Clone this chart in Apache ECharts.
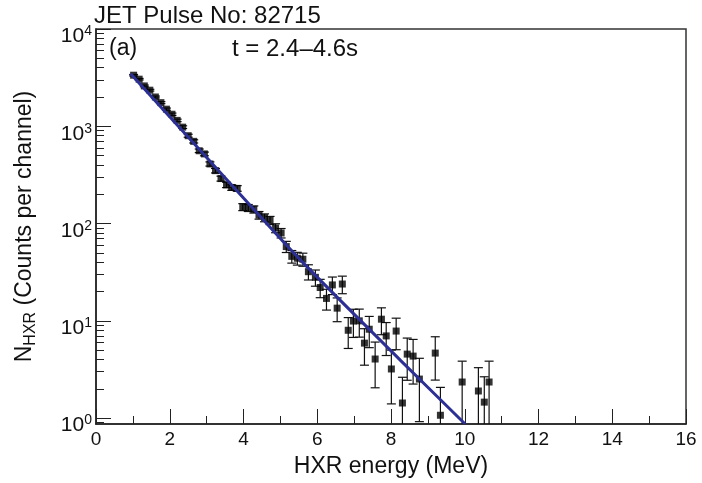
<!DOCTYPE html>
<html>
<head>
<meta charset="utf-8">
<script src="https://cdn.jsdelivr.net/npm/echarts@6/dist/echarts.min.js"></script>
<style>
  html, body { margin: 0; padding: 0; background: #fff; }
  #chart { width: 702px; height: 483px; }
</style>
</head>
<body>
<div id="chart"></div>
<script>
// HXR spectrum, counts per channel vs energy (MeV)
const energy = [
  1.02, 1.17, 1.31, 1.46, 1.61, 1.76, 1.91, 2.06, 2.20, 2.35,
  2.50, 2.65, 2.80, 2.94, 3.09, 3.24, 3.39, 3.54, 3.68, 3.83,
  3.98, 4.13, 4.28, 4.42, 4.57, 4.72, 4.87, 5.02, 5.16, 5.31,
  5.46, 5.61, 5.76, 5.95, 6.08, 6.25, 6.41, 6.54, 6.68, 6.84,
  6.98, 7.14, 7.28, 7.41, 7.57, 7.74, 7.87, 8.01, 8.14, 8.31,
  8.44, 8.60, 8.77, 9.20, 9.34, 9.93, 10.37, 10.53, 10.66
];
const counts = [
  3350, 3050, 2600, 2350, 2000, 1750, 1500, 1330, 1150, 980,
  800, 700, 560, 520, 410, 350, 290, 250, 235, 230,
  148, 145, 140, 122, 115, 108, 90, 80, 58, 46,
  44, 43, 32, 28, 22, 17, 23.4, 13.5, 23.9, 8.0,
  9.95, 10.0, 5.9, 8.2, 4.05, 10.4, 7.0, 3.2, 7.85, 1.43,
  4.55, 4.34, 2.52, 4.66, 1.07, 2.35, 1.90, 1.46, 2.35
];
// statistical uncertainty of each channel
const countErr = [
  57.9, 55.2, 51.0, 48.5, 44.7, 41.8, 38.7, 36.5, 33.9, 31.3,
  28.3, 26.5, 23.7, 22.8, 20.2, 18.7, 17.0, 15.8, 15.3, 15.2,
  12.2, 12.0, 11.8, 11.0, 10.7, 10.4, 9.5, 8.9, 7.6, 6.8,
  6.6, 6.6, 5.7, 5.3, 4.7, 4.1, 4.8, 3.7, 4.9, 2.8,
  3.2, 3.2, 2.4, 2.9, 2.0, 3.2, 2.6, 1.8, 2.8, 1.2,
  2.1, 2.1, 1.6, 2.2, 1.0, 1.5, 1.4, 1.2, 1.5
];
// fitted spectrum
const fitEnergy = [0.94, 2.48, 4.00, 5.54, 8.25, 10.01];
const fitCounts = [3460, 790, 183, 42.3, 3.95, 0.87];

const yMin = 0.87, yMax = 10000;
const yMajorTicks = [1, 10, 100, 1000, 10000];
const yMinorTicks = [
  0.9,
  2, 3, 4, 5, 6, 7, 8, 9,
  20, 30, 40, 50, 60, 70, 80, 90,
  200, 300, 400, 500, 600, 700, 800, 900,
  2000, 3000, 4000, 5000, 6000, 7000, 8000, 9000
];

const FONT = "'Liberation Sans', Arial, Helvetica, sans-serif";
const INK = '#111';
const AXIS = '#222';

const points = energy.map((e, i) => [e, counts[i]]);
const bars = energy.map((e, i) => [e, counts[i], countErr[i]]);
const fit = fitEnergy.map((e, i) => [e, fitCounts[i]]);

const chart = echarts.init(document.getElementById('chart'), null, { renderer: 'canvas' });

chart.setOption({
  backgroundColor: '#fff',
  animation: false,
  grid: {
    left: 96, right: 16, top: 29, bottom: 59,
    show: true, borderColor: '#333', borderWidth: 1.5, backgroundColor: 'transparent'
  },
  graphic: [
    { type: 'text', left: 94, top: 4, style: { text: 'JET Pulse No: 82715', font: '24px ' + FONT, fill: INK } },
    { type: 'text', left: 109, top: 37, style: { text: '(a)', font: '23px ' + FONT, fill: INK } },
    { type: 'text', left: 232, top: 37, style: { text: 't = 2.4\u20134.6s', font: '24px ' + FONT, fill: INK } }
  ],
  xAxis: {
    type: 'value', min: 0, max: 16, interval: 2,
    axisLine: { show: true, lineStyle: { color: AXIS, width: 1.5 } },
    axisTick: { inside: true, length: 15, lineStyle: { color: AXIS, width: 1 } },
    minorTick: { show: true, splitNumber: 2, length: 8, lineStyle: { color: AXIS, width: 1 } },
    splitLine: { show: false },
    axisLabel: { fontSize: 19, fontFamily: FONT, color: INK, margin: 6 },
    name: 'HXR energy (MeV)', nameLocation: 'middle', nameGap: 31,
    nameTextStyle: { fontSize: 23, fontFamily: FONT, color: INK }
  },
  yAxis: [
    {
      type: 'log', min: yMin, max: yMax,
      axisLine: { show: true, lineStyle: { color: AXIS, width: 1.5 } },
      axisTick: { inside: true, length: 15, customValues: yMajorTicks, lineStyle: { color: AXIS, width: 1 } },
      minorTick: { show: false },
      splitLine: { show: false },
      axisLabel: {
        customValues: yMajorTicks,
        margin: 4,
        padding: [15, 0, 0, 0],
        formatter: v => '{b|10}{s|' + Math.round(Math.log10(v)) + '}',
        rich: {
          b: { fontSize: 21, fontFamily: FONT, color: INK, lineHeight: 24, verticalAlign: 'middle' },
          s: { fontSize: 14, fontFamily: FONT, color: INK, lineHeight: 14, verticalAlign: 'top' }
        }
      },
      name: '{n|N}{sub|HXR}{n| (Counts per channel)}',
      nameLocation: 'middle', nameGap: 57,
      nameTextStyle: {
        rich: {
          n: { fontSize: 23, fontFamily: FONT, color: INK, lineHeight: 28, verticalAlign: 'middle' },
          sub: { fontSize: 16, fontFamily: FONT, color: INK, lineHeight: 16, verticalAlign: 'bottom' }
        }
      }
    },
    {
      type: 'log', min: yMin, max: yMax, position: 'left', offset: 0,
      axisLine: { show: false },
      axisTick: { show: true, inside: true, length: 8, customValues: yMinorTicks, lineStyle: { color: AXIS, width: 1 } },
      axisLabel: { show: false },
      minorTick: { show: false },
      splitLine: { show: false }
    }
  ],
  series: [
    {
      type: 'custom',
      name: 'errors',
      xAxisIndex: 0, yAxisIndex: 0,
      clip: true,
      data: bars,
      z: 3,
      renderItem: function (params, api) {
        const e = api.value(0), n = api.value(1), s = api.value(2);
        const hi = api.coord([e, n + s]);
        const low = n - s;
        const lo = api.coord([e, low > 0 ? low : yMin * 0.5]);
        const st = { stroke: INK, lineWidth: 1.2 };
        const cap = 4.5;
        const children = [
          { type: 'line', shape: { x1: hi[0], y1: hi[1], x2: lo[0], y2: lo[1] }, style: st },
          { type: 'line', shape: { x1: hi[0] - cap, y1: hi[1], x2: hi[0] + cap, y2: hi[1] }, style: st }
        ];
        if (low > 0) {
          children.push({ type: 'line', shape: { x1: lo[0] - cap, y1: lo[1], x2: lo[0] + cap, y2: lo[1] }, style: st });
        }
        return { type: 'group', children: children };
      }
    },
    {
      type: 'scatter',
      name: 'data',
      data: points,
      symbol: 'rect',
      symbolSize: 7,
      itemStyle: { color: '#000' },
      z: 4
    },
    {
      type: 'line',
      name: 'fit',
      data: fit,
      showSymbol: false,
      smooth: 0.3,
      clip: true,
      lineStyle: { color: '#2c2f94', width: 3 },
      z: 5
    }
  ]
});
</script>
</body>
</html>
